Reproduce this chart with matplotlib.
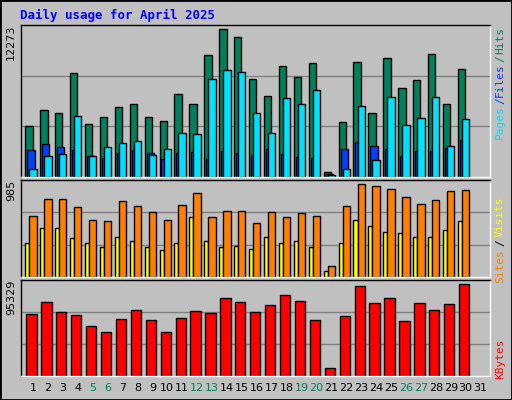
import numpy as np
import matplotlib
matplotlib.use("Agg")
import matplotlib.pyplot as plt

days = np.arange(1, 32)
weekends = [5, 6, 12, 13, 19, 20, 26, 27]

# daily values (day 31 has no data)
hits = [4276, 5609, 5360, 8608, 4443, 5026, 5859, 6109, 5026, 4693, 6859, 6109,
        10108, 12273, 11607, 8108, 6692, 9191, 8275, 9441, 444, 4610, 9525, 5360,
        9858, 7359, 8025, 10191, 6109, 8942, 0]
files = [690, 1780, 1940, 5030, 1780, 2530, 2860, 3030, 1860, 2360, 3690, 3610,
         8110, 8860, 8690, 5280, 3690, 6530, 6030, 7190, 190, 690, 5940, 1440,
         6610, 4360, 4940, 6690, 2610, 4780, 0]
pages = [2280, 2780, 2530, 2280, 1780, 1610, 2030, 2280, 2030, 1530, 2030, 2110,
         1530, 2190, 2030, 1860, 2360, 1940, 1690, 1610, 280, 2360, 2940, 2610,
         2360, 1780, 2190, 2190, 2440, 3110, 0]
visits = [354, 514, 514, 407, 354, 321, 418, 385, 321, 289, 364, 632, 385, 321,
          332, 300, 418, 364, 385, 321, 64, 354, 600, 535, 471, 461, 418, 418,
          493, 589, 0]
sites = [643, 824, 824, 739, 600, 589, 803, 749, 685, 600, 760, 888, 632, 696,
         696, 567, 685, 632, 675, 643, 118, 749, 985, 963, 931, 846, 771, 814,
         910, 921, 0]
kbytes = [64000, 76500, 66000, 62900, 51500, 45200, 58800, 68100, 57700, 45200,
          59900, 67100, 65000, 80600, 76500, 66000, 73200, 83700, 77500, 57700,
          8700, 61900, 92900, 75100, 80300, 56700, 75100, 67800, 74100, 95329, 0]

BG = "#c0c0c0"
W, H = 512, 400
fig = plt.figure(figsize=(W / 100, H / 100), dpi=100, facecolor=BG)

def px_axes(x0, y0, x1, y1):
    ax = fig.add_axes([x0 / W, 1 - y1 / H, (x1 - x0) / W, (y1 - y0) / H])
    ax.set_facecolor(BG)
    ax.set_xlim(0.16, 31.63)
    ax.set_xticks([])
    ax.set_yticks([])
    for s in ax.spines.values():
        s.set_color("white")
        s.set_linewidth(1)
    ax.spines["top"].set_color("black")
    ax.spines["left"].set_color("black")
    return ax

def grid(ax, top):
    for f in (1 / 3, 2 / 3):
        ax.axhline(top * f, color="#808080", lw=1, zorder=0)

def bars(ax, vals, off, w, color):
    v = np.array(vals, dtype=float)
    m = v > 0
    ax.bar(days[m] + off, v[m], width=w, align="edge", color=color,
           edgecolor="black", linewidth=1, zorder=2)

ax1 = px_axes(20.5, 25, 490, 177)
top1 = 12634
ax1.set_ylim(0, top1)
grid(ax1, top1)
bars(ax1, hits, -0.52, 0.49, "#00805c")
bars(ax1, pages, -0.39, 0.49, "#0040ff")
bars(ax1, files, -0.25, 0.49, "#00e0ff")

ax2 = px_axes(20.5, 180, 490, 277)
top2 = 1024
ax2.set_ylim(0, top2)
grid(ax2, top2)
bars(ax2, visits, -0.52, 0.27, "#ffff00")
bars(ax2, sites, -0.25, 0.49, "#ff8000")

ax3 = px_axes(20.5, 280, 490, 376)
top3 = 99150
ax3.set_ylim(0, top3)
grid(ax3, top3)
bars(ax3, kbytes, -0.45, 0.69, "#ff0000")

# outer frame
fig.patches.append(plt.Rectangle((0, 0), 1, 1, transform=fig.transFigure,
                                 fill=False, edgecolor="black", lw=2))

mono = "DejaVu Sans Mono"
fig.text(20 / W, 1 - 15 / H, "Daily usage for April 2025", color="#0000ff",
         family=mono, weight="bold", fontsize=9, va="center", ha="left")

for ax, lab in ((ax1, "12273"), (ax2, "985"), (ax3, "95329")):
    ax.text(-0.01, 1.0, lab, transform=ax.transAxes, rotation=90,
            ha="right", va="top", fontsize=8, family="DejaVu Sans")

for d in days:
    col = "#00805c" if d in weekends else "black"
    ax3.text(d, -0.12, str(d), transform=ax3.get_xaxis_transform(),
             ha="center", va="center", fontsize=8, color=col)

def side(y, s, c):
    fig.text(500 / W, 1 - y / H, s, rotation=90, ha="center", va="center",
             color=c, family=mono, fontsize=8)

side(122, "Pages", "#00e0ff")
side(101, "/", "#0040ff")
side(80, "Files", "#0040ff")
side(59, "/", "#00805c")
side(40, "Hits", "#00805c")
side(266, "Sites", "#ff8000")
side(243, "/", "black")
side(217, "Visits", "#ffff00")
side(359, "KBytes", "#ff0000")

fig.savefig("out.png", dpi=100, facecolor=BG)
